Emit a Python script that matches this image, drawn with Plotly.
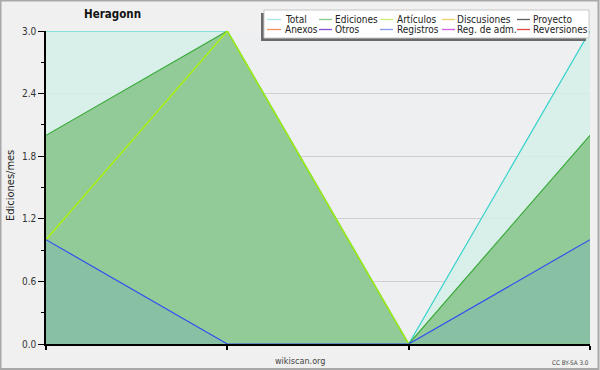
import plotly.graph_objects as go

# ---- data ----
x_idx = [0, 1, 2, 3]
total = [3, 3, 0, 3]
ediciones = [2, 3, 0, 2]
articulos = [1, 3, 0, 0]
registros = [1, 0, 0, 1]

legend_names = ["Total", "Ediciones", "Artículos", "Discusiones", "Proyecto",
                 "Anexos", "Otros", "Registros", "Reg. de adm.", "Reversiones"]
legend_colors = ["#a8e4e4", "#88c888", "#c8f070", "#f0d068", "#606060",
                 "#f09060", "#8050d0", "#8898f0", "#d060e0", "#e04848"]

y_ticks = [0.0, 0.6, 1.2, 1.8, 2.4, 3.0]

FONT = "DejaVu Sans Condensed, Liberation Sans, sans-serif"

W, H = 600, 370
L, R, T, B = 46, 10, 31, 26
PW, PH = W - L - R, H - T - B


def px(x):
    return (x - L) / PW


def py(y):
    return (H - B - y) / PH


fig = go.Figure()

fig.add_trace(go.Scatter(x=x_idx, y=total, mode="lines", fill="tozeroy",
                         fillcolor="rgba(213,240,233,0.85)",
                         line=dict(color="#38d2cc", width=1.2), showlegend=False))
fig.add_trace(go.Scatter(x=x_idx, y=ediciones, mode="lines", fill="tozeroy",
                         fillcolor="rgba(133,196,136,0.85)",
                         line=dict(color="#3aaa3a", width=1.2), showlegend=False))
fig.add_trace(go.Scatter(x=x_idx, y=articulos, mode="lines",
                         line=dict(color="#a8f010", width=1.4), showlegend=False))
fig.add_trace(go.Scatter(x=x_idx, y=registros, mode="lines", fill="tozeroy",
                         fillcolor="rgba(134,190,166,0.85)",
                         line=dict(color="#3050f0", width=1.2), showlegend=False))

shapes = []
annotations = []

# outer border
shapes.append(dict(type="rect", xref="paper", yref="paper",
                   x0=px(0.5), x1=px(W - 1.5), y0=py(H - 1), y1=py(0.5),
                   line=dict(color="#a8a8a8", width=2), fillcolor="rgba(0,0,0,0)",
                   layer="above"))

# legend box (shadow + white box)
shapes.append(dict(type="rect", xref="paper", yref="paper",
                   x0=px(261), x1=px(586), y0=py(41), y1=py(13),
                   line=dict(width=0), fillcolor="#6a6a6a", layer="above"))
shapes.append(dict(type="rect", xref="paper", yref="paper",
                   x0=px(264), x1=px(589), y0=py(38), y1=py(10),
                   line=dict(color="#c8c8c8", width=1), fillcolor="#ffffff",
                   layer="above"))

sym_x = [(267, 281), (319, 332), (380, 393), (442, 455), (517, 530)]
txt_x = [283, 333, 395, 455, 531]
row_y = [19.5, 29.5]
for i, (name, col) in enumerate(zip(legend_names, legend_colors)):
    r, c = divmod(i, 5)
    y = row_y[r]
    shapes.append(dict(type="line", xref="paper", yref="paper",
                       x0=px(sym_x[c][0]), x1=px(sym_x[c][1]), y0=py(y), y1=py(y),
                       line=dict(color=col, width=1.3), layer="above"))
    annotations.append(dict(text=name, xref="paper", yref="paper",
                            x=px(txt_x[c]), y=py(y), xanchor="left", yanchor="middle",
                            showarrow=False, font=dict(family=FONT, size=10, color="#222")))

# title
annotations.append(dict(text="<b>Heragonn</b>", xref="paper", yref="paper",
                        x=px(112), y=py(14), xanchor="center", yanchor="middle",
                        showarrow=False, font=dict(family=FONT, size=11.5, color="#111")))
# y axis title
annotations.append(dict(text="Ediciones/mes", xref="paper", yref="paper",
                        x=px(10), y=py(186), xanchor="center", yanchor="middle",
                        textangle=-90, showarrow=False,
                        font=dict(family=FONT, size=11, color="#222")))
# footer
annotations.append(dict(text="wikiscan.org", xref="paper", yref="paper",
                        x=px(300), y=py(361), xanchor="center", yanchor="middle",
                        showarrow=False, font=dict(family=FONT, size=9, color="#444")))
annotations.append(dict(text="CC BY-SA 3.0", xref="paper", yref="paper",
                        x=px(591), y=py(362.5), xanchor="right", yanchor="middle",
                        showarrow=False, font=dict(family=FONT, size=6.3, color="#444")))

fig.update_layout(
    width=W, height=H,
    margin=dict(l=L, r=R, t=T, b=B, autoexpand=False),
    paper_bgcolor="#f0f0f0",
    plot_bgcolor="#eeeff1",
    shapes=shapes,
    annotations=annotations,
    showlegend=False,
)
fig.update_xaxes(range=[0, 3], showgrid=False, zeroline=False,
                 showline=True, linecolor="#000", linewidth=1.5,
                 tickmode="array", tickvals=x_idx, ticktext=["", "", "", ""],
                 ticks="outside", ticklen=4, tickcolor="#000", tickwidth=1.5)
fig.update_yaxes(range=[0, 3], showgrid=True, gridcolor="#cfcfcf", gridwidth=1,
                 zeroline=False, showline=True, linecolor="#000", linewidth=1.5,
                 tickmode="array", tickvals=y_ticks,
                 ticktext=[f"{v:.1f}" for v in y_ticks],
                 ticks="outside", ticklen=6, tickcolor="#000", tickwidth=1,
                 minor=dict(tickvals=[0.3, 0.9, 1.5, 2.1, 2.7], ticks="outside",
                            ticklen=3, tickcolor="#000", showgrid=False),
                 tickfont=dict(family=FONT, size=10, color="#333"))

fig.write_html("out.html", config={"displayModeBar": False},
               post_script="document.body.style.margin='0';document.body.style.padding='0';")
